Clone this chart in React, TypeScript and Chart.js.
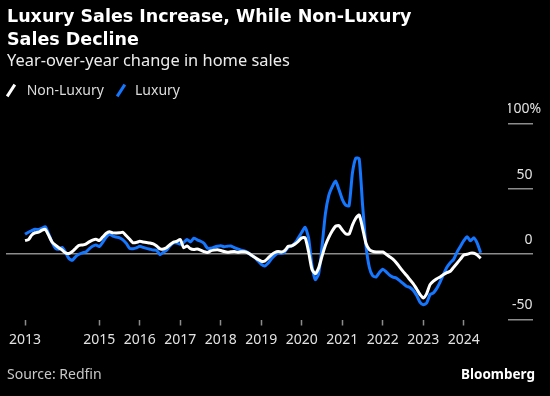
import { useEffect, useRef } from 'react';
import { Chart, registerables } from 'chart.js';

Chart.register(...registerables);

// ---- data (monthly, starting March 2013) ----
const START_YEAR = 2013;
const START_MONTH = 3;

const nonLuxury = [
  10.4, 11.1, 14.7, 16.4, 16.8, 18.3, 19.0, 14.4, 9.3, 6.9, 4.9, 3.1,
  1.0, 0.5, 2.0, 4.5, 6.8, 7.0, 7.7, 9.4, 10.7, 11.4, 10.4, 13.1,
  15.8, 17.2, 16.3, 16.2, 16.3, 16.7, 14.1, 11.4, 8.7, 9.0, 9.8, 9.3,
  8.9, 8.6, 7.8, 6.2, 4.0, 4.0, 5.1, 7.4, 9.2, 9.9, 11.2, 4.9,
  6.3, 4.2, 3.6, 3.9, 3.1, 2.0, 1.2, 2.5, 3.1, 3.4, 2.8, 2.0,
  1.5, 1.8, 2.0, 1.5, 1.8, 1.8, 1.0, -0.6, -2.3, -4.0, -5.4, -5.3,
  -3.0, -0.5, 1.3, 2.1, 1.6, 2.9, 6.0, 6.3, 7.7, 9.9, 12.5, 12.5,
  2.0, -11.5, -15.0, -10.5, -1.5, 6.8, 12.8, 17.7, 21.4, 21.8, 18.5, 15.6,
  15.3, 22.2, 27.5, 30.0, 20.0, 8.4, 3.6, 2.1, 1.6, 1.6, 1.7, -0.1,
  -1.9, -3.8, -6.5, -9.9, -13.2, -16.2, -19.4, -22.5, -26.5, -30.7, -33.5, -30.2,
  -23.3, -20.7, -18.8, -17.4, -15.6, -14.2, -13.1, -10.0, -6.9, -3.8, -0.6, -0.1,
  0.8, 0.7, -0.7, -3.2,
];

const luxury = [
  15.2, 16.8, 18.0, 19.0, 18.8, 19.8, 21.0, 15.5, 9.2, 4.6, 3.7, 5.2,
  1.3, -3.3, -4.7, -1.8, -0.1, 1.0, 1.6, 4.0, 6.0, 7.0, 5.8, 9.0,
  13.0, 15.3, 13.8, 13.1, 12.5, 11.0, 8.3, 4.4, 4.2, 4.8, 6.0, 5.2,
  4.4, 3.8, 3.2, 2.9, -0.4, 1.5, 3.2, 6.5, 8.6, 8.6, 7.6, 9.0,
  11.3, 9.4, 12.2, 11.0, 9.9, 8.4, 4.7, 4.5, 5.3, 6.0, 6.4, 5.7,
  6.1, 6.3, 5.0, 4.0, 3.1, 2.5, 1.3, -0.9, -2.3, -5.1, -7.7, -9.1,
  -7.0, -3.6, -1.0, 0.8, 0.6, 2.0, 5.5, 6.2, 8.5, 12.5, 16.8, 20.5,
  12.5, -8.5, -19.5, -15.0, 6.0, 31.0, 45.0, 51.5, 56.0, 49.5, 42.0, 37.5,
  37.0, 62.0, 73.5, 73.0, 38.0, 7.0, -10.0, -16.5, -17.5, -14.0, -11.5, -13.5,
  -16.0, -17.6, -18.3, -20.3, -22.4, -24.5, -25.4, -27.6, -31.5, -36.7, -38.7, -37.4,
  -31.0, -29.6, -26.2, -21.2, -15.4, -10.0, -6.5, -4.0, 1.6, 5.9, 10.3, 13.3,
  10.2, 12.5, 8.3, 1.0,
];

const xTickMonths = ['2013-03', '2015-01', '2016-01', '2017-01', '2018-01', '2019-01', '2020-01', '2021-01', '2022-01', '2023-01', '2024-01'];
const xTickLabels = ['2013', '2015', '2016', '2017', '2018', '2019', '2020', '2021', '2022', '2023', '2024'];
const yTicks = [-50, 0, 50, 100];

// ---- helpers ----
const monthToYear = (s: string) => {
  const [y, m] = s.split('-').map(Number);
  return y + (m - 1) / 12;
};
const months = nonLuxury.map((_, i) => {
  const total = START_MONTH - 1 + i;
  return `${START_YEAR + Math.floor(total / 12)}-${String((total % 12) + 1).padStart(2, '0')}`;
});

const GRAY = '#8c8c8c';
const BLUE = '#1577ff';
const LABEL = '#e2e2e2';

const yLabelAlign = {
  id: 'yLabelAlign',
  beforeDraw(chart: any) {
    const scale = chart.scales.y;
    const items = scale.getLabelItems();
    const ctx = chart.ctx;
    const right = scale.left + 24.5;
    items.forEach((it: any) => {
      ctx.save();
      ctx.font = it.font.string;
      let x = right;
      if (String(it.label).endsWith('%')) x += ctx.measureText('%').width * 0.75;
      ctx.restore();
      it.options.translation[0] = x;
      it.options.textAlign = 'right';
    });
  },
};

export default function App() {
  const ref = useRef<HTMLCanvasElement>(null);

  useEffect(() => {
    if (!ref.current) return;
    Chart.defaults.font.family = '"Noto Sans", sans-serif';
    const chart = new Chart(ref.current, {
      type: 'line',
      data: {
        datasets: [
          {
            label: 'Non-Luxury',
            data: nonLuxury.map((v, i) => ({ x: monthToYear(months[i]), y: v })),
            borderColor: '#ffffff',
            borderWidth: 3,
            pointRadius: 0,
            tension: 0.2,
            borderJoinStyle: 'round',
          },
          {
            label: 'Luxury',
            data: luxury.map((v, i) => ({ x: monthToYear(months[i]), y: v })),
            borderColor: BLUE,
            borderWidth: 3,
            pointRadius: 0,
            tension: 0.2,
            borderJoinStyle: 'round',
          },
        ],
      },
      options: {
        animation: false,
        responsive: false,
        devicePixelRatio: 1,
        layout: { padding: { left: 6, top: 123.5, right: 0, bottom: 46.5 } },
        plugins: { legend: { display: false }, tooltip: { enabled: false } },
        scales: {
          x: {
            type: 'linear',
            min: 2012.6963,
            max: 2025.0917,
            afterBuildTicks: (s: any) => {
              s.ticks = xTickMonths.map((m) => ({ value: monthToYear(m) }));
            },
            afterFit: (s: any) => {
              s.height = 30;
            },
            grid: { drawOnChartArea: false, drawTicks: true, tickLength: 6, tickColor: GRAY, tickWidth: 1.5 },
            border: { display: false },
            ticks: {
              autoSkip: false,
              maxRotation: 0,
              padding: 6,
              color: LABEL,
              font: { size: 14 },
              callback: (_v: any, i: number) => xTickLabels[i],
            },
          },
          y: {
            position: 'right',
            min: -50,
            max: 100,
            afterBuildTicks: (s: any) => {
              s.ticks = yTicks.map((v) => ({ value: v }));
            },
            afterFit: (s: any) => {
              s.width = 42;
            },
            grid: {
              color: (c: any) => (c.tick && c.tick.value === 0 ? GRAY : 'rgba(0,0,0,0)'),
              tickColor: GRAY,
              tickLength: 25,
              lineWidth: 1.5,
              tickWidth: 1.5,
            },
            border: { display: false },
            ticks: {
              labelOffset: -14,
              color: LABEL,
              font: { size: 14 },
              callback: (v: any) => (v === 100 ? '100%' : String(v)),
            },
          },
        },
      },
      plugins: [yLabelAlign],
    } as any);
    return () => chart.destroy();
  }, []);

  const icon = (cx: number, color: string) => (
    <div
      style={{
        position: 'absolute',
        left: cx - 7,
        top: 90.8 - 1.5,
        width: 14,
        height: 3,
        background: color,
        transform: 'rotate(-57deg)',
      }}
    />
  );

  return (
    <div style={{ position: 'fixed', left: 0, top: 0, width: 550, height: 396, background: '#000', overflow: 'hidden' }}>
      <canvas ref={ref} width={550} height={396} style={{ position: 'absolute', left: 0, top: 0, width: 550, height: 396 }} />
      <div
        style={{
          position: 'absolute',
          left: 7,
          top: 5,
          font: '700 17.5px "DejaVu Sans"',
          lineHeight: '23px',
          color: '#fff',
          whiteSpace: 'nowrap',
        }}
      >
        Luxury Sales Increase, While Non-Luxury
        <br />
        Sales Decline
      </div>
      <div
        style={{
          position: 'absolute',
          left: 7,
          top: 49.5,
          font: '400 16.4px "Noto Sans"',
          lineHeight: '20px',
          color: '#ececec',
          whiteSpace: 'nowrap',
        }}
      >
        Year-over-year change in home sales
      </div>
      {icon(11.2, '#ffffff')}
      <div style={{ position: 'absolute', left: 26.7, top: 80.6, font: '400 14px "Noto Sans"', lineHeight: '18px', color: '#dcdcdc' }}>
        Non-Luxury
      </div>
      {icon(120.8, BLUE)}
      <div style={{ position: 'absolute', left: 135, top: 80.6, font: '400 14px "Noto Sans"', lineHeight: '18px', color: '#dcdcdc' }}>
        Luxury
      </div>
      <div style={{ position: 'absolute', left: 7, top: 365.1, font: '400 14px "Noto Sans"', lineHeight: '18px', color: '#c8c8c8' }}>
        Source: Redfin
      </div>
      <div
        style={{
          position: 'absolute',
          right: 15,
          top: 364.5,
          font: '700 13.5px "Noto Sans"',
          lineHeight: '18px',
          color: '#fff',
        }}
      >
        Bloomberg
      </div>
    </div>
  );
}
